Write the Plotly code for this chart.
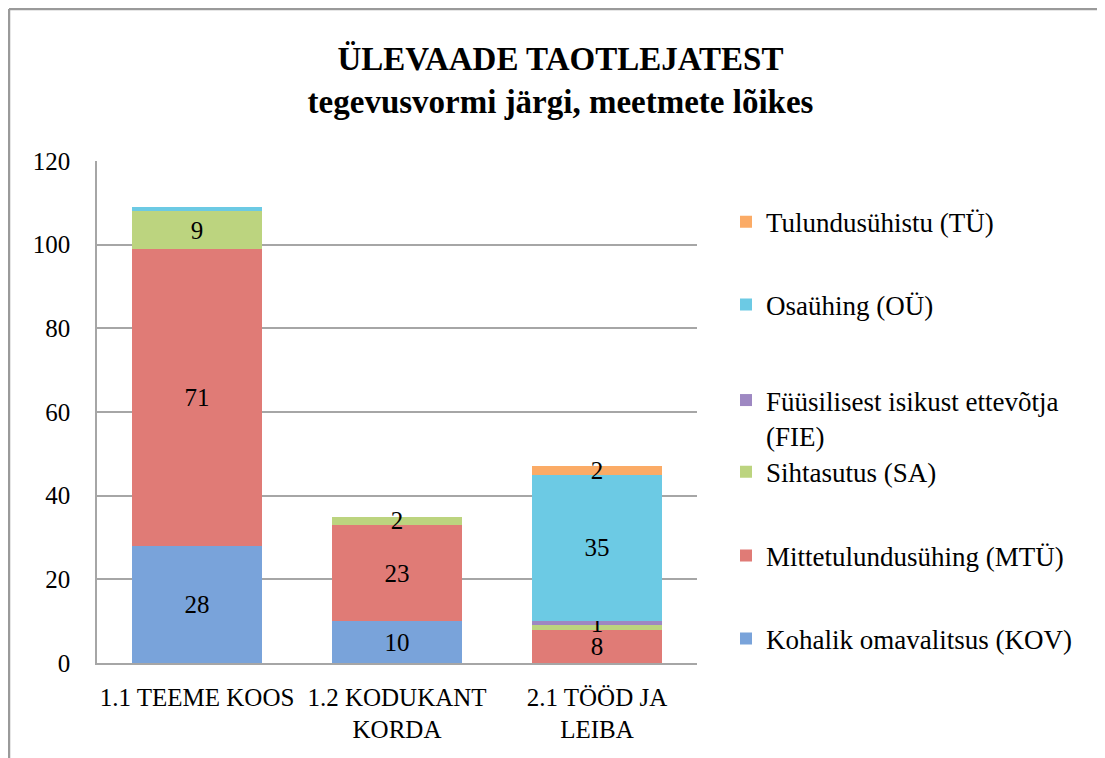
import plotly.graph_objects as go

categories = ["1.1 TEEME KOOS", "1.2 KODUKANT<br>KORDA", "2.1 TÖÖD JA<br>LEIBA"]
series_names = [
    "Kohalik omavalitsus (KOV)",
    "Mittetulundusühing (MTÜ)",
    "Sihtasutus (SA)",
    "Füüsilisest isikust ettevõtja<br>(FIE)",
    "Osaühing (OÜ)",
    "Tulundusühistu (TÜ)",
]
kov = [28, 10, 0]
mtu = [71, 23, 8]
sa = [9, 2, 1]
fie = [0, 0, 1]
ou = [1, 0, 35]
tu = [0, 0, 2]
# labels that are not shown in the original (thin segments)
hidden_labels = {"SA": [2], "OÜ": [0]}

series_values = [kov, mtu, sa, fie, ou, tu]
series_keys = ["KOV", "MTÜ", "SA", "FIE", "OÜ", "TÜ"]
colors = ["#79a3da", "#e07b76", "#bcd47f", "#9e88c2", "#6ccae4", "#fbab66"]
legend_y = [0.048, 0.213, 0.380, (663 - 376) / 502, 0.713, 0.878]
legend_valign = ["middle", "middle", "middle", "top", "middle", "middle"]

FONT = "Liberation Serif"
# page body has an 8px margin: figure px = reference px - 8
L, T, PW, PH = 89, 153, 600, 502

fig = go.Figure()
for i, (name, vals, key, col) in enumerate(zip(series_names, series_values, series_keys, colors)):
    hid = hidden_labels.get(key, [])
    text = ["" if (v == 0 or j in hid) else str(v) for j, v in enumerate(vals)]
    lg = "legend" if i == 0 else f"legend{i+1}"
    fig.add_trace(go.Bar(
        x=categories, y=vals, name=name, marker=dict(color=col, line=dict(width=0)),
        text=text, textposition="inside", insidetextanchor="middle", textangle=0,
        constraintext="none", cliponaxis=False, showlegend=True,
        textfont=dict(family=FONT, size=25, color="black"),
        legend=lg,
    ))

legend_x = (718 - L) / PW
layout_legends = {}
for i in range(6):
    key = "legend" if i == 0 else f"legend{i+1}"
    layout_legends[key] = dict(
        x=legend_x, xanchor="left", y=legend_y[i],
        yanchor="middle" if legend_valign[i] == "middle" else "top",
        valign=legend_valign[i], bgcolor="rgba(0,0,0,0)", itemwidth=30,
        font=dict(family=FONT, size=27, color="black"), visible=True,
    )

fig.update_layout(
    width=1105, height=758,
    margin=dict(l=L, r=1105 - L - PW, t=T, b=758 - T - PH),
    paper_bgcolor="white", plot_bgcolor="white",
    barmode="stack", bargap=0.35, showlegend=True,
    title=dict(
        text="<b>ÜLEVAADE TAOTLEJATEST<br>tegevusvormi järgi, meetmete lõikes</b>",
        x=0.5, xref="container", xanchor="center",
        y=1 - 62 / 758, yref="container", yanchor="middle",
        font=dict(family=FONT, size=33, color="black"),
    ),
    font=dict(family=FONT, size=25, color="black"),
    **layout_legends,
)
fig.update_yaxes(
    range=[0, 120], dtick=20, showgrid=True, gridcolor="#a6a6a6", gridwidth=1.5,
    showline=True, linecolor="#a6a6a6", linewidth=1.5, zeroline=False,
    ticks="", ticklabelstandoff=20, tickfont=dict(family=FONT, size=25, color="black"),
)
fig.update_xaxes(
    showline=True, linecolor="#a6a6a6", linewidth=1.5, ticks="",
    ticklabelstandoff=11, tickfont=dict(family=FONT, size=25, color="black"),
    tickangle=0,
)
# outer chart frame (top and left edges)
fy = (PH + T - 1) / PH
fx = (1 - L) / PW
fig.add_shape(type="line", xref="paper", yref="paper",
              x0=fx, x1=(1120 - L) / PW, y0=fy, y1=fy,
              line=dict(color="#9a9a9a", width=2.5))
fig.add_shape(type="line", xref="paper", yref="paper",
              x0=fx, x1=fx, y0=fy, y1=(PH + T - 780) / PH,
              line=dict(color="#9a9a9a", width=2.5))

fig.write_html("out.html")
